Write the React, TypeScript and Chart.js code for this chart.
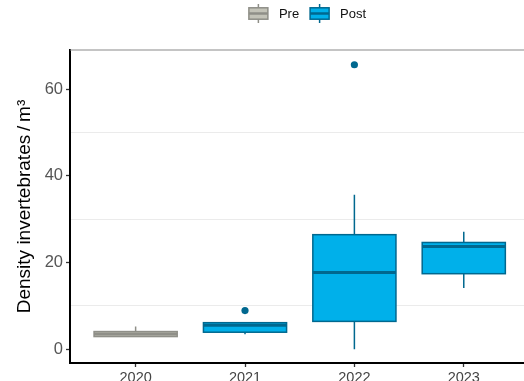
import React, { useEffect, useRef } from 'react';
import { Chart, registerables } from 'chart.js';

Chart.register(...registerables);

// ---- data ----
const years = ['2020', '2021', '2022', '2023'];
const groups = ['Pre', 'Post', 'Post', 'Post'];
const whiskerLow = [2.8, 3.45, 0.0, 14.1];
const q1 = [2.9, 3.9, 6.4, 17.4];
const median = [3.5, 5.5, 17.7, 23.7];
const q3 = [4.05, 6.1, 26.4, 24.6];
const whiskerHigh = [5.2, 6.1, 35.6, 27.1];
const outlierYears = ['2021', '2022'];
const outlierValues = [8.9, 65.6];
const yTicks = [0, 20, 40, 60];
const yGridValues = [10, 30, 50];
const legendLabels = ['Pre', 'Post'];

const COLORS: Record<string, { fill: string; stroke: string }> = {
  Pre: { fill: '#c3c3b8', stroke: '#8f8f88' },
  Post: { fill: '#00b0ea', stroke: '#00688f' },
};

const FONT = "'Liberation Sans', Arial, Helvetica, sans-serif";
const CANVAS_W = 533;
const CANVAS_H = 400;
const AREA_LEFT = 70;
const AREA_TOP = 50;
const AREA_BOTTOM = 363;
const BOX_HALF = 0.38;

function drawKey(ctx: CanvasRenderingContext2D, x: number, yTop: number, w: number, h: number, fill: string, stroke: string) {
  const cx = x + w / 2;
  ctx.strokeStyle = stroke;
  ctx.lineWidth = 1.5;
  ctx.beginPath();
  ctx.moveTo(cx, yTop);
  ctx.lineTo(cx, yTop + h);
  ctx.stroke();
  const bTop = yTop + h * 0.2;
  const bH = h * 0.6;
  ctx.fillStyle = fill;
  ctx.fillRect(x, bTop, w, bH);
  ctx.strokeRect(x, bTop, w, bH);
  ctx.lineWidth = 2.5;
  ctx.beginPath();
  ctx.moveTo(x, yTop + h / 2);
  ctx.lineTo(x + w, yTop + h / 2);
  ctx.stroke();
}

const boxPlugin = {
  id: 'boxes',
  beforeDatasetsDraw(chart: any) {
    const { ctx, scales } = chart;
    const xs = scales.x;
    const ys = scales.y;
    ctx.save();
    years.forEach((_, i) => {
      const col = COLORS[groups[i]];
      const cx = xs.getPixelForValue(i + 1);
      const hw = Math.abs(xs.getPixelForValue(i + 1 + BOX_HALF) - cx);
      const yHi = ys.getPixelForValue(whiskerHigh[i]);
      const yQ3 = ys.getPixelForValue(q3[i]);
      const yMed = ys.getPixelForValue(median[i]);
      const yQ1 = ys.getPixelForValue(q1[i]);
      const yLo = ys.getPixelForValue(whiskerLow[i]);
      ctx.strokeStyle = col.stroke;
      ctx.lineWidth = 1.5;
      ctx.beginPath();
      ctx.moveTo(cx, yHi);
      ctx.lineTo(cx, yQ3);
      ctx.moveTo(cx, yQ1);
      ctx.lineTo(cx, yLo);
      ctx.stroke();
      ctx.fillStyle = col.fill;
      ctx.fillRect(cx - hw, yQ3, hw * 2, yQ1 - yQ3);
      ctx.strokeRect(cx - hw, yQ3, hw * 2, yQ1 - yQ3);
      ctx.lineWidth = 3;
      ctx.beginPath();
      ctx.moveTo(cx - hw, yMed);
      ctx.lineTo(cx + hw, yMed);
      ctx.stroke();
    });
    ctx.restore();
  },
  afterDraw(chart: any) {
    const { ctx, chartArea } = chart;
    ctx.save();
    // panel top border
    ctx.strokeStyle = '#8a8a8a';
    ctx.lineWidth = 1.2;
    ctx.beginPath();
    ctx.moveTo(chartArea.left, chartArea.top);
    ctx.lineTo(chartArea.right, chartArea.top);
    ctx.stroke();
    // legend
    ctx.font = `13px ${FONT}`;
    ctx.textBaseline = 'middle';
    ctx.textAlign = 'left';
    const keyW = 19;
    const keyH = 19;
    const gapKeyText = 11;
    const gapItems = 11;
    const widths = legendLabels.map((l) => keyW + gapKeyText + ctx.measureText(l).width);
    const total = widths.reduce((a, b) => a + b, 0) + gapItems * (legendLabels.length - 1);
    let x = 307.5 - total / 2;
    const cy = 13.5;
    legendLabels.forEach((l, i) => {
      const col = COLORS[l];
      drawKey(ctx, x, cy - keyH / 2, keyW, keyH, col.fill, col.stroke);
      ctx.fillStyle = '#111';
      ctx.fillText(l, x + keyW + gapKeyText, cy + 0.5);
      x += widths[i] + gapItems;
    });
    ctx.restore();
  },
};

export default function App() {
  const ref = useRef<HTMLCanvasElement | null>(null);
  useEffect(() => {
    if (!ref.current) return;
    Chart.defaults.font.family = FONT;
    const chart = new Chart(ref.current, {
      type: 'scatter',
      data: {
        datasets: [
          {
            label: 'outliers',
            data: outlierYears.map((yr, i) => ({ x: years.indexOf(yr) + 1, y: outlierValues[i] })),
            pointRadius: 3.6,
            pointHoverRadius: 3.6,
            pointBackgroundColor: COLORS.Post.stroke,
            pointBorderColor: COLORS.Post.stroke,
            pointBorderWidth: 0,
          },
        ],
      },
      options: {
        responsive: false,
        animation: false,
        layout: { padding: { top: AREA_TOP, left: 0, right: 0, bottom: 0 } },
        plugins: { legend: { display: false }, tooltip: { enabled: false } },
        scales: {
          x: {
            type: 'linear',
            min: 0.4,
            max: 4.6,
            afterFit: (s: any) => {
              s.height = CANVAS_H - AREA_BOTTOM;
            },
            ticks: {
              stepSize: 1,
              includeBounds: false,
              autoSkip: false,
              maxRotation: 0,
              padding: 2,
              color: '#444',
              font: { size: 14.5 },
              callback: (v: any) => years[Math.round(Number(v)) - 1] ?? '',
            },
            grid: { drawOnChartArea: false, tickColor: '#333', tickLength: 4, tickWidth: 1.3 },
            border: { display: true, color: '#000', width: 2 },
          },
          y: {
            type: 'linear',
            min: -3.2,
            max: 69,
            afterFit: (s: any) => {
              s.width = AREA_LEFT;
            },
            ticks: {
              stepSize: 10,
              includeBounds: false,
              autoSkip: false,
              padding: 3,
              color: '#555',
              font: { size: 16.5 },
              callback: (v: any) => (yTicks.includes(Number(v)) ? String(v) : ''),
            },
            grid: {
              color: (c: any) => (yGridValues.includes(c.tick?.value) ? '#ebebeb' : 'rgba(0,0,0,0)'),
              tickColor: (c: any) => (yTicks.includes(c.tick?.value) ? '#333' : 'rgba(0,0,0,0)'),
              tickLength: 4,
              tickWidth: 1.3,
              lineWidth: 1,
            },
            border: { display: true, color: '#000', width: 2 },
            title: {
              display: true,
              text: 'Density invertebrates\u2009/\u2009m³',
              color: '#000',
              font: { size: 19 },
              padding: { top: 13, bottom: 0 },
            },
          },
        },
      },
      plugins: [boxPlugin],
    });
    return () => chart.destroy();
  }, []);
  return (
    <div
      style={{
        position: 'fixed',
        left: 0,
        top: 0,
        width: 524,
        height: 381,
        overflow: 'hidden',
        background: '#fff',
      }}
    >
      <canvas ref={ref} width={CANVAS_W} height={CANVAS_H} style={{ display: 'block' }} />
    </div>
  );
}
